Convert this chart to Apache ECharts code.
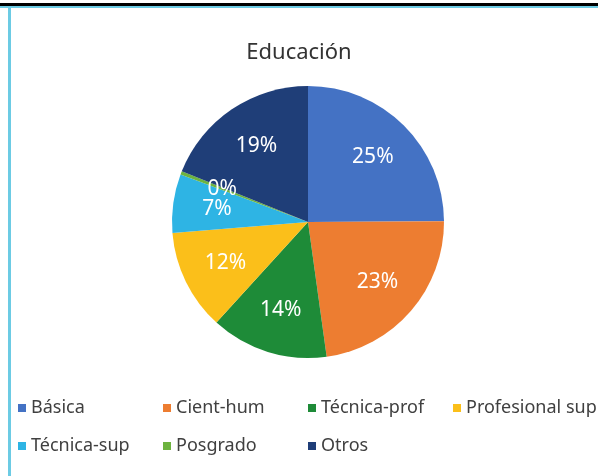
<!DOCTYPE html>
<html>
<head>
<meta charset="utf-8">
<script src="https://cdn.jsdelivr.net/npm/echarts@6/dist/echarts.min.js"></script>
<style>html,body{margin:0;padding:0;background:#fff;}#c{width:598px;height:476px;}</style>
</head>
<body>
<div id="c"></div>
<script>
var categories = ['Básica', 'Cient-hum', 'Técnica-prof', 'Profesional sup', 'Técnica-sup', 'Posgrado', 'Otros'];
var values = [25, 23, 14, 12, 7, 0.4, 19];
var colors = ['#4472C4', '#ED7D31', '#1E8B38', '#FBBF1A', '#2EB4E4', '#6DB33F', '#1F3E78'];
var titleText = 'Educación';

var chart = echarts.init(document.getElementById('c'));
var mainData = categories.map(function (n, i) {
  return { name: n, value: values[i], itemStyle: { color: colors[i] } };
});
var labelData = categories.map(function (n, i) {
  return { name: n, value: values[i] };
});
chart.setOption({
  animation: false,
  backgroundColor: '#ffffff',
  title: {
    text: titleText, left: 'center', top: 37,
    textStyle: { fontFamily: 'Noto Sans', fontSize: 22, fontWeight: 'normal', color: '#333333' }
  },
  legend: {
    data: categories,
    left: 13, top: 389, width: 620,
    orient: 'horizontal',
    itemWidth: 8, itemHeight: 8, itemGap: 10,
    icon: 'rect',
    textStyle: { fontFamily: 'Noto Sans', fontSize: 18, color: '#404040', width: 122, overflow: 'none', lineHeight: 28 }
  },
  graphic: [
    { type: 'rect', shape: { x: 0, y: 3, width: 598, height: 3 }, style: { fill: '#000000' }, silent: true },
    { type: 'rect', shape: { x: 0, y: 6, width: 598, height: 2 }, style: { fill: '#6CCBE4' }, silent: true },
    { type: 'rect', shape: { x: 8, y: 6, width: 3, height: 470 }, style: { fill: '#6CCBE4' }, silent: true }
  ],
  series: [
    {
      type: 'pie', center: [308, 222], radius: [0, 136],
      startAngle: 90, clockwise: true, silent: true,
      label: { show: false }, labelLine: { show: false },
      data: mainData
    },
    {
      type: 'pie', center: [308, 222], radius: [42, 136],
      startAngle: 90, clockwise: true, silent: true,
      avoidLabelOverlap: false,
      labelLayout: { hideOverlap: false },
      itemStyle: { color: 'rgba(0,0,0,0)' },
      label: {
        show: true, position: 'inside', color: '#ffffff',
        fontFamily: 'Noto Sans', fontSize: 21,
        formatter: function (p) { return Math.round(p.value) + '%'; }
      },
      labelLine: { show: false },
      data: labelData
    }
  ]
});
</script>
</body>
</html>
